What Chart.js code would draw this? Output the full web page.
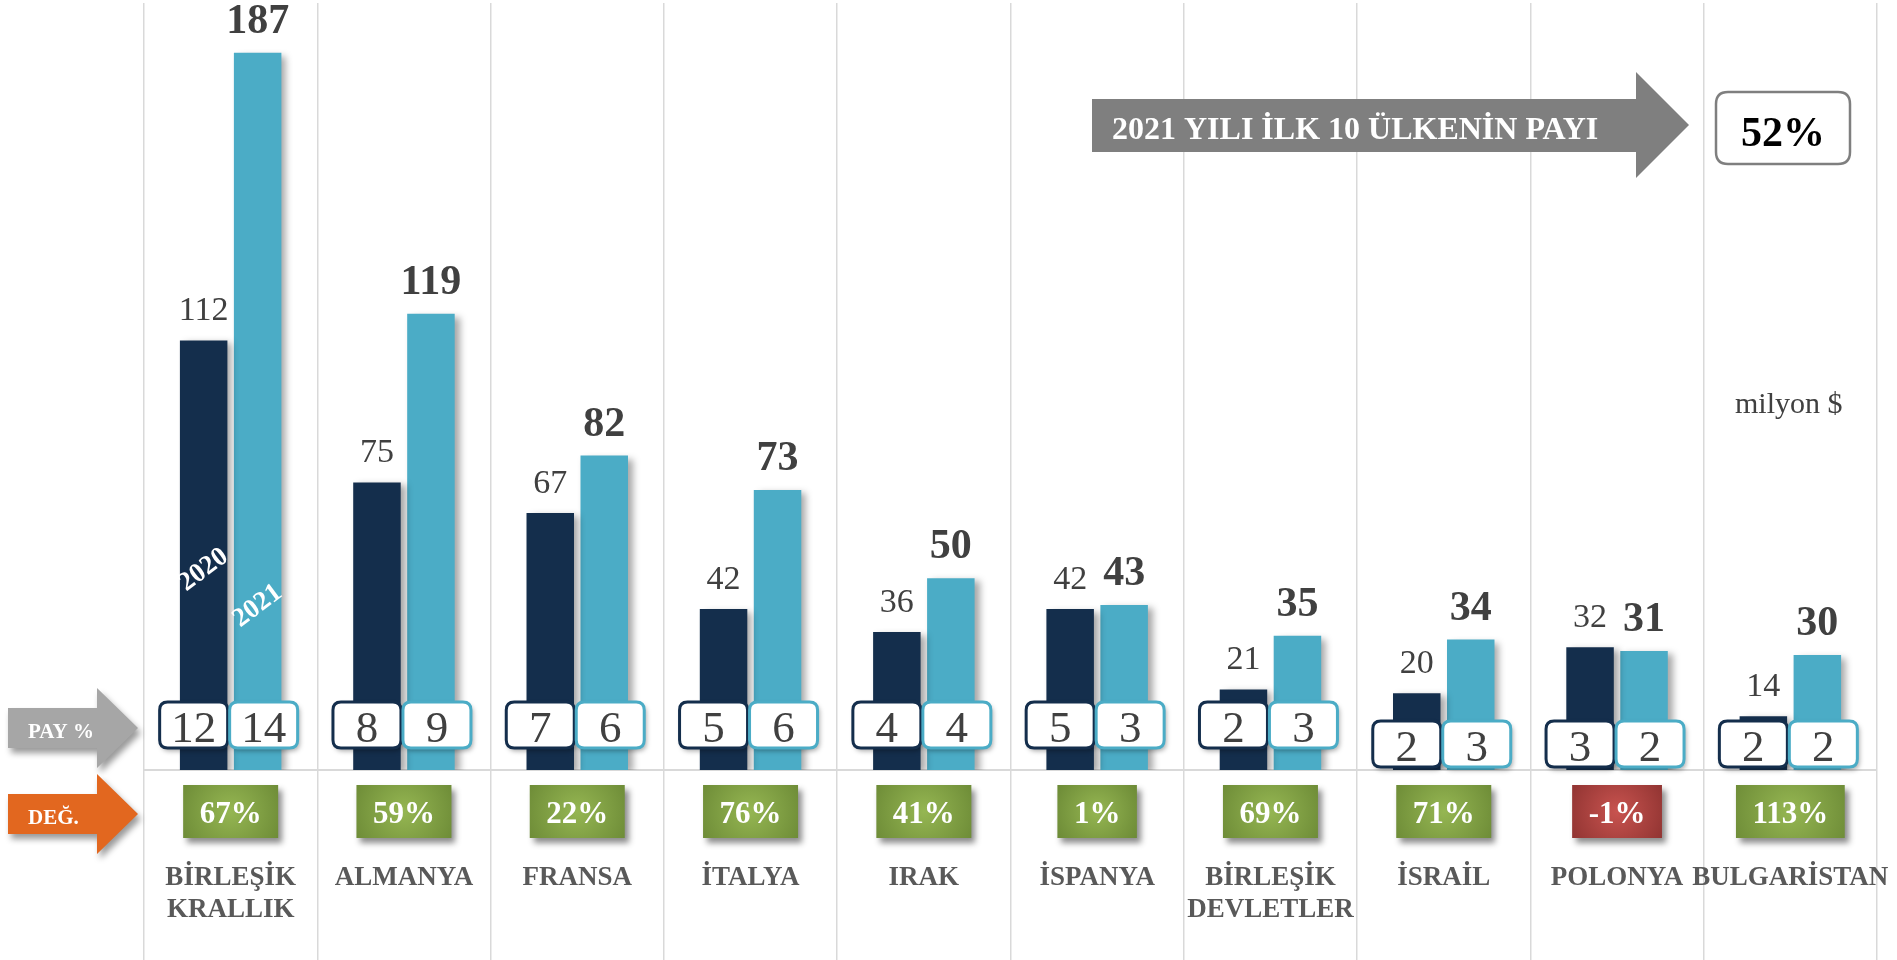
<!DOCTYPE html>
<html lang="tr">
<head>
<meta charset="utf-8">
<title>2021 yılı ilk 10 ülke</title>
<script src="https://cdn.jsdelivr.net/npm/chart.js@4.4.1/dist/chart.umd.min.js"></script>
<style>
  html, body { margin: 0; padding: 0; background: #fff; }
  #wrap { width: 1897px; height: 960px; }
</style>
</head>
<body>
<div id="wrap"><canvas id="chart" width="1897" height="960"></canvas></div>
<script>
// ---- values (milyon $) ----
const countries = [['BİRLEŞİK', 'KRALLIK'], 'ALMANYA', 'FRANSA', 'İTALYA', 'IRAK', 'İSPANYA',
                   ['BİRLEŞİK', 'DEVLETLER'], 'İSRAİL', 'POLONYA', 'BULGARİSTAN'];
const values2020 = [112, 75, 67, 42, 36, 42, 21, 20, 32, 14];
const values2021 = [187, 119, 82, 73, 50, 43, 35, 34, 31, 30];
const share2020 = [12, 8, 7, 5, 4, 5, 2, 2, 3, 2];
const share2021 = [14, 9, 6, 6, 4, 3, 3, 3, 2, 2];
const changePct = [67, 59, 22, 76, 41, 1, 69, 71, -1, 113];
const top10Share = 52;
const yMax = 200;

const SERIF = '"Liberation Serif", "Times New Roman", serif';
const NAVY = '#142e4c';
const TEAL = '#4bacc6';

// the last three share boxes sit a bit lower in the original
const lowBox = [false, false, false, false, false, false, false, true, true, true];

function roundRect(ctx, x, y, w, h, r) {
    ctx.beginPath();
    ctx.moveTo(x + r, y);
    ctx.lineTo(x + w - r, y);
    ctx.quadraticCurveTo(x + w, y, x + w, y + r);
    ctx.lineTo(x + w, y + h - r);
    ctx.quadraticCurveTo(x + w, y + h, x + w - r, y + h);
    ctx.lineTo(x + r, y + h);
    ctx.quadraticCurveTo(x, y + h, x, y + h - r);
    ctx.lineTo(x, y + r);
    ctx.quadraticCurveTo(x, y, x + r, y);
    ctx.closePath();
}

// block arrow pointing right
function arrow(ctx, x0, bodyTop, bodyBot, headX, headTop, headBot, tipX, color) {
    const mid = (headTop + headBot) / 2;
    ctx.beginPath();
    ctx.moveTo(x0, bodyTop);
    ctx.lineTo(headX, bodyTop);
    ctx.lineTo(headX, headTop);
    ctx.lineTo(tipX, mid);
    ctx.lineTo(headX, headBot);
    ctx.lineTo(headX, bodyBot);
    ctx.lineTo(x0, bodyBot);
    ctx.closePath();
    ctx.fillStyle = color;
    ctx.fill();
}

const barShadow = {
    id: 'barShadow',
    beforeDatasetsDraw(chart) {
        const ctx = chart.ctx;
        ctx.save();
        ctx.shadowColor = 'rgba(0,0,0,0.35)';
        ctx.shadowBlur = 7;
        ctx.shadowOffsetX = 5;
        ctx.shadowOffsetY = 3;
    },
    afterDatasetsDraw(chart) {
        chart.ctx.restore();
    }
};

const decor = {
    id: 'decor',
    afterDraw(chart) {
        const ctx = chart.ctx;
        const xs = chart.scales.x;
        const ys = chart.scales.y;
        const base = ys.getPixelForValue(0);
        const metas = [chart.getDatasetMeta(0), chart.getDatasetMeta(1)];
        const shares = [share2020, share2021];
        const colors = [NAVY, TEAL];

        ctx.save();

        // value labels above the bars
        ctx.textAlign = 'center';
        ctx.textBaseline = 'alphabetic';
        ctx.fillStyle = '#404040';
        metas[0].data.forEach((bar, i) => {
            ctx.font = '34px ' + SERIF;
            ctx.fillText(values2020[i], bar.x, bar.y - 20);
        });
        metas[1].data.forEach((bar, i) => {
            ctx.font = 'bold 42px ' + SERIF;
            ctx.fillText(values2021[i], bar.x, bar.y - 20);
        });

        // series names written inside the first pair of bars
        ctx.font = 'bold 27px ' + SERIF;
        ctx.fillStyle = '#ffffff';
        [[0, 200], [1, 164]].forEach(([d, up]) => {
            const bar = metas[d].data[0];
            ctx.save();
            ctx.translate(bar.x, base - up);
            ctx.rotate(-37 * Math.PI / 180);
            ctx.textBaseline = 'middle';
            ctx.fillText(chart.data.datasets[d].label, 0, 0);
            ctx.restore();
        });

        // share (PAY %) boxes
        const bw = 68, bh = 46;
        [0, 1].forEach(d => {
            metas[d].data.forEach((bar, i) => {
                const cx = bar.x + (d === 0 ? -10 : 6);
                const cy = base - (lowBox[i] ? 26 : 45);
                ctx.save();
                ctx.shadowColor = 'rgba(0,0,0,0.35)';
                ctx.shadowBlur = 5;
                ctx.shadowOffsetX = 2;
                ctx.shadowOffsetY = 3;
                roundRect(ctx, cx - bw / 2, cy - bh / 2, bw, bh, 8);
                ctx.fillStyle = '#ffffff';
                ctx.fill();
                ctx.restore();
                roundRect(ctx, cx - bw / 2, cy - bh / 2, bw, bh, 8);
                ctx.lineWidth = 3;
                ctx.strokeStyle = colors[d];
                ctx.stroke();
                ctx.font = '45px ' + SERIF;
                ctx.fillStyle = '#404040';
                ctx.textAlign = 'center';
                ctx.textBaseline = 'alphabetic';
                ctx.fillText(shares[d][i], cx, cy + 17);
            });
        });

        // change (DEĞ.) boxes and country names
        countries.forEach((name, i) => {
            const cx = xs.getPixelForValue(i);
            const txt = changePct[i] + '%';
            ctx.font = 'bold 31px ' + SERIF;
            const w = ctx.measureText(txt).width + 33;
            const top = base + 15, h = 53;
            const g = ctx.createRadialGradient(cx, top + h / 2, 0, cx, top + h / 2, w * 0.6);
            if (changePct[i] < 0) {
                g.addColorStop(0, '#c8534f');
                g.addColorStop(1, '#8f3331');
            } else {
                g.addColorStop(0, '#95b652');
                g.addColorStop(1, '#6c8a36');
            }
            ctx.save();
            ctx.shadowColor = 'rgba(0,0,0,0.45)';
            ctx.shadowBlur = 6;
            ctx.shadowOffsetX = 4;
            ctx.shadowOffsetY = 5;
            ctx.fillStyle = g;
            ctx.fillRect(cx - w / 2, top, w, h);
            ctx.restore();
            ctx.fillStyle = '#ffffff';
            ctx.textAlign = 'center';
            ctx.fillText(txt, cx, top + 38);

            ctx.font = 'bold 27px ' + SERIF;
            ctx.fillStyle = '#595959';
            const lines = Array.isArray(name) ? name : [name];
            lines.forEach((ln, k) => ctx.fillText(ln, cx, base + 115 + k * 32));
        });

        // left-hand row markers
        ctx.save();
        ctx.shadowColor = 'rgba(0,0,0,0.4)';
        ctx.shadowBlur = 6;
        ctx.shadowOffsetX = 3;
        ctx.shadowOffsetY = 5;
        arrow(ctx, 8, 708, 748, 97, 688, 768, 138, '#a6a6a6');
        arrow(ctx, 8, 794, 834, 97, 774, 854, 138, '#e2671f');
        ctx.restore();
        ctx.fillStyle = '#ffffff';
        ctx.font = 'bold 21px ' + SERIF;
        ctx.textAlign = 'left';
        ctx.fillText('PAY %', 28, 738);
        ctx.fillText('DEĞ.', 28, 824);

        // top-10 share callout
        arrow(ctx, 1092, 99, 152, 1636, 72, 178, 1689, '#7f7f7f');
        ctx.font = 'bold 32px ' + SERIF;
        ctx.fillStyle = '#ffffff';
        ctx.fillText('2021 YILI İLK 10 ÜLKENİN PAYI', 1112, 139);

        roundRect(ctx, 1716, 92, 134, 72, 12);
        ctx.fillStyle = '#ffffff';
        ctx.fill();
        ctx.lineWidth = 2.5;
        ctx.strokeStyle = '#7f7f7f';
        ctx.stroke();
        ctx.font = 'bold 42px ' + SERIF;
        ctx.fillStyle = '#000000';
        ctx.textAlign = 'center';
        ctx.fillText(top10Share + '%', 1783, 146);

        ctx.font = '30px ' + SERIF;
        ctx.fillStyle = '#404040';
        ctx.textAlign = 'left';
        ctx.fillText('milyon $', 1735, 413);

        ctx.restore();
    }
};

new Chart(document.getElementById('chart'), {
    type: 'bar',
    data: {
        labels: countries,
        datasets: [
            { label: '2020', data: values2020, backgroundColor: NAVY },
            { label: '2021', data: values2021, backgroundColor: TEAL }
        ]
    },
    options: {
        responsive: false,
        animation: false,
        devicePixelRatio: 1,
        layout: { padding: { left: 144, right: 20, top: 3, bottom: 0 } },
        categoryPercentage: 0.623,
        barPercentage: 0.88,
        plugins: {
            legend: { display: false },
            tooltip: { enabled: false }
        },
        scales: {
            x: {
                grid: {
                    offset: true,
                    color: '#d9d9d9',
                    lineWidth: 1.5,
                    drawTicks: true,
                    tickLength: 190
                },
                border: { color: '#d9d9d9', width: 2 },
                ticks: { display: false }
            },
            y: {
                display: false,
                min: 0,
                max: yMax
            }
        }
    },
    plugins: [barShadow, decor]
});
</script>
</body>
</html>
